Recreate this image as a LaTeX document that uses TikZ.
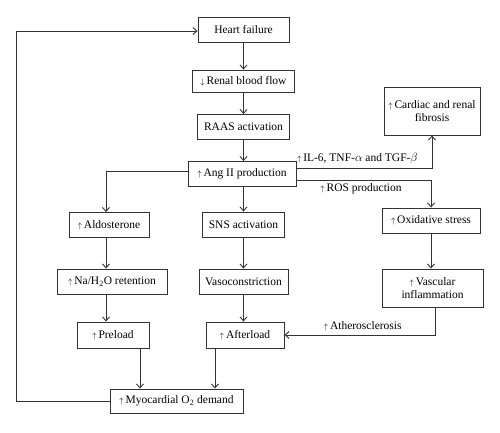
\documentclass[tikz,border=0pt]{standalone}
\usepackage{fontspec}
\setmainfont{Liberation Serif}
\usetikzlibrary{arrows.meta}
\definecolor{linecolor}{HTML}{333333}
\newcommand{\incr}{{\footnotesize$\uparrow$}\,}
\newcommand{\decr}{{\footnotesize$\downarrow$}\,}

\begin{document}
\begin{tikzpicture}[x=1pt, y=-1pt, font=\fontsize{11.5}{13}\selectfont,
    box/.style={draw=linecolor, rectangle, line width=0.9pt, inner sep=2pt, minimum height=25pt, align=center},
    link/.style={-{Straight Barb[length=4pt,width=7pt]}, line width=0.9pt, draw=linecolor}]
  \useasboundingbox (0,0) rectangle (500,433);
  % main chain
  \node[box, minimum width=91pt] (hf) at (243.5,29.5) {Heart failure};
  \node[box, minimum width=102pt, minimum height=22pt] (rbf) at (243.5,81) {\decr Renal blood flow};
  \node[box, minimum width=92pt] (raas) at (243.5,127) {RAAS activation};
  \node[box, minimum width=108pt] (ang) at (242,174) {\incr Ang II production};
  \node[box, minimum width=96pt, minimum height=48pt] (fib) at (432,111) {\incr Cardiac and renal\\fibrosis};
  % second row
  \node[box, minimum width=80pt] (ald) at (109,225) {\incr Aldosterone};
  \node[box, minimum width=82pt] (sns) at (243.5,224.5) {SNS activation};
  \node[box, minimum width=98pt] (ox) at (431,220.5) {\incr Oxidative stress};
  \node[box, minimum width=110pt] (na) at (112,281.5) {\incr Na/H\textsubscript{2}O retention};
  \node[box, minimum width=89pt] (vaso) at (243.5,281.5) {Vasoconstriction};
  \node[box, minimum width=101pt, minimum height=38pt] (vasc) at (432.5,288) {\incr Vascular\\inflammation};
  \node[box, minimum width=72pt, minimum height=26pt] (pre) at (113,335) {\incr Preload};
  \node[box, minimum width=78pt, minimum height=26pt] (aft) at (245,335) {\incr Afterload};
  \node[box, minimum width=133pt, minimum height=24pt] (myo) at (176.5,401) {\incr Myocardial O\textsubscript{2} demand};
  % connectors
  \draw[link] (hf) -- (rbf);
  \draw[link] (rbf) -- (raas);
  \draw[link] (raas) -- (ang.north -| raas);
  \draw[link] (ang.south -| sns) -- (sns);
  \draw[link] ([yshift=3pt]ang.west) -| ([xshift=-3pt]ald.north);
  \draw[link] ([yshift=6pt]ang.east) -| node[pos=0.225, above] (il) {\incr IL-6, TNF-$\alpha$ and TGF-$\beta$} (fib.south);
  \draw[link] ([yshift=-6pt]ang.east) -| node[pos=0.24, below] (ros) {\incr ROS production} (ox.north);
  \draw[link] ([xshift=-3pt]ald.south) -- ([xshift=-3pt]ald.south |- na.north);
  \draw[link] ([xshift=-3pt]ald.south |- na.south) -- ([xshift=-3pt]ald.south |- pre.north);
  \draw[link] (sns) -- (vaso);
  \draw[link] (vaso) -- (vaso |- aft.north);
  \draw[link] (ox) -- (ox |- vasc.north);
  \draw[link] ([xshift=2.5pt]vasc.south) |- node[pos=0.74, above] (ath) {\incr Atherosclerosis} (aft.east);
  \draw[link] ([xshift=27pt]pre.south) -- ([xshift=27pt]pre.south |- myo.north);
  \draw[link] ([xshift=-30pt]aft.south) -- ([xshift=-30pt]aft.south |- myo.north);
  \draw[link] (myo.west) -- ++(-93,0) |- ([yshift=-1.5pt]hf.west);
\end{tikzpicture}
\end{document}
